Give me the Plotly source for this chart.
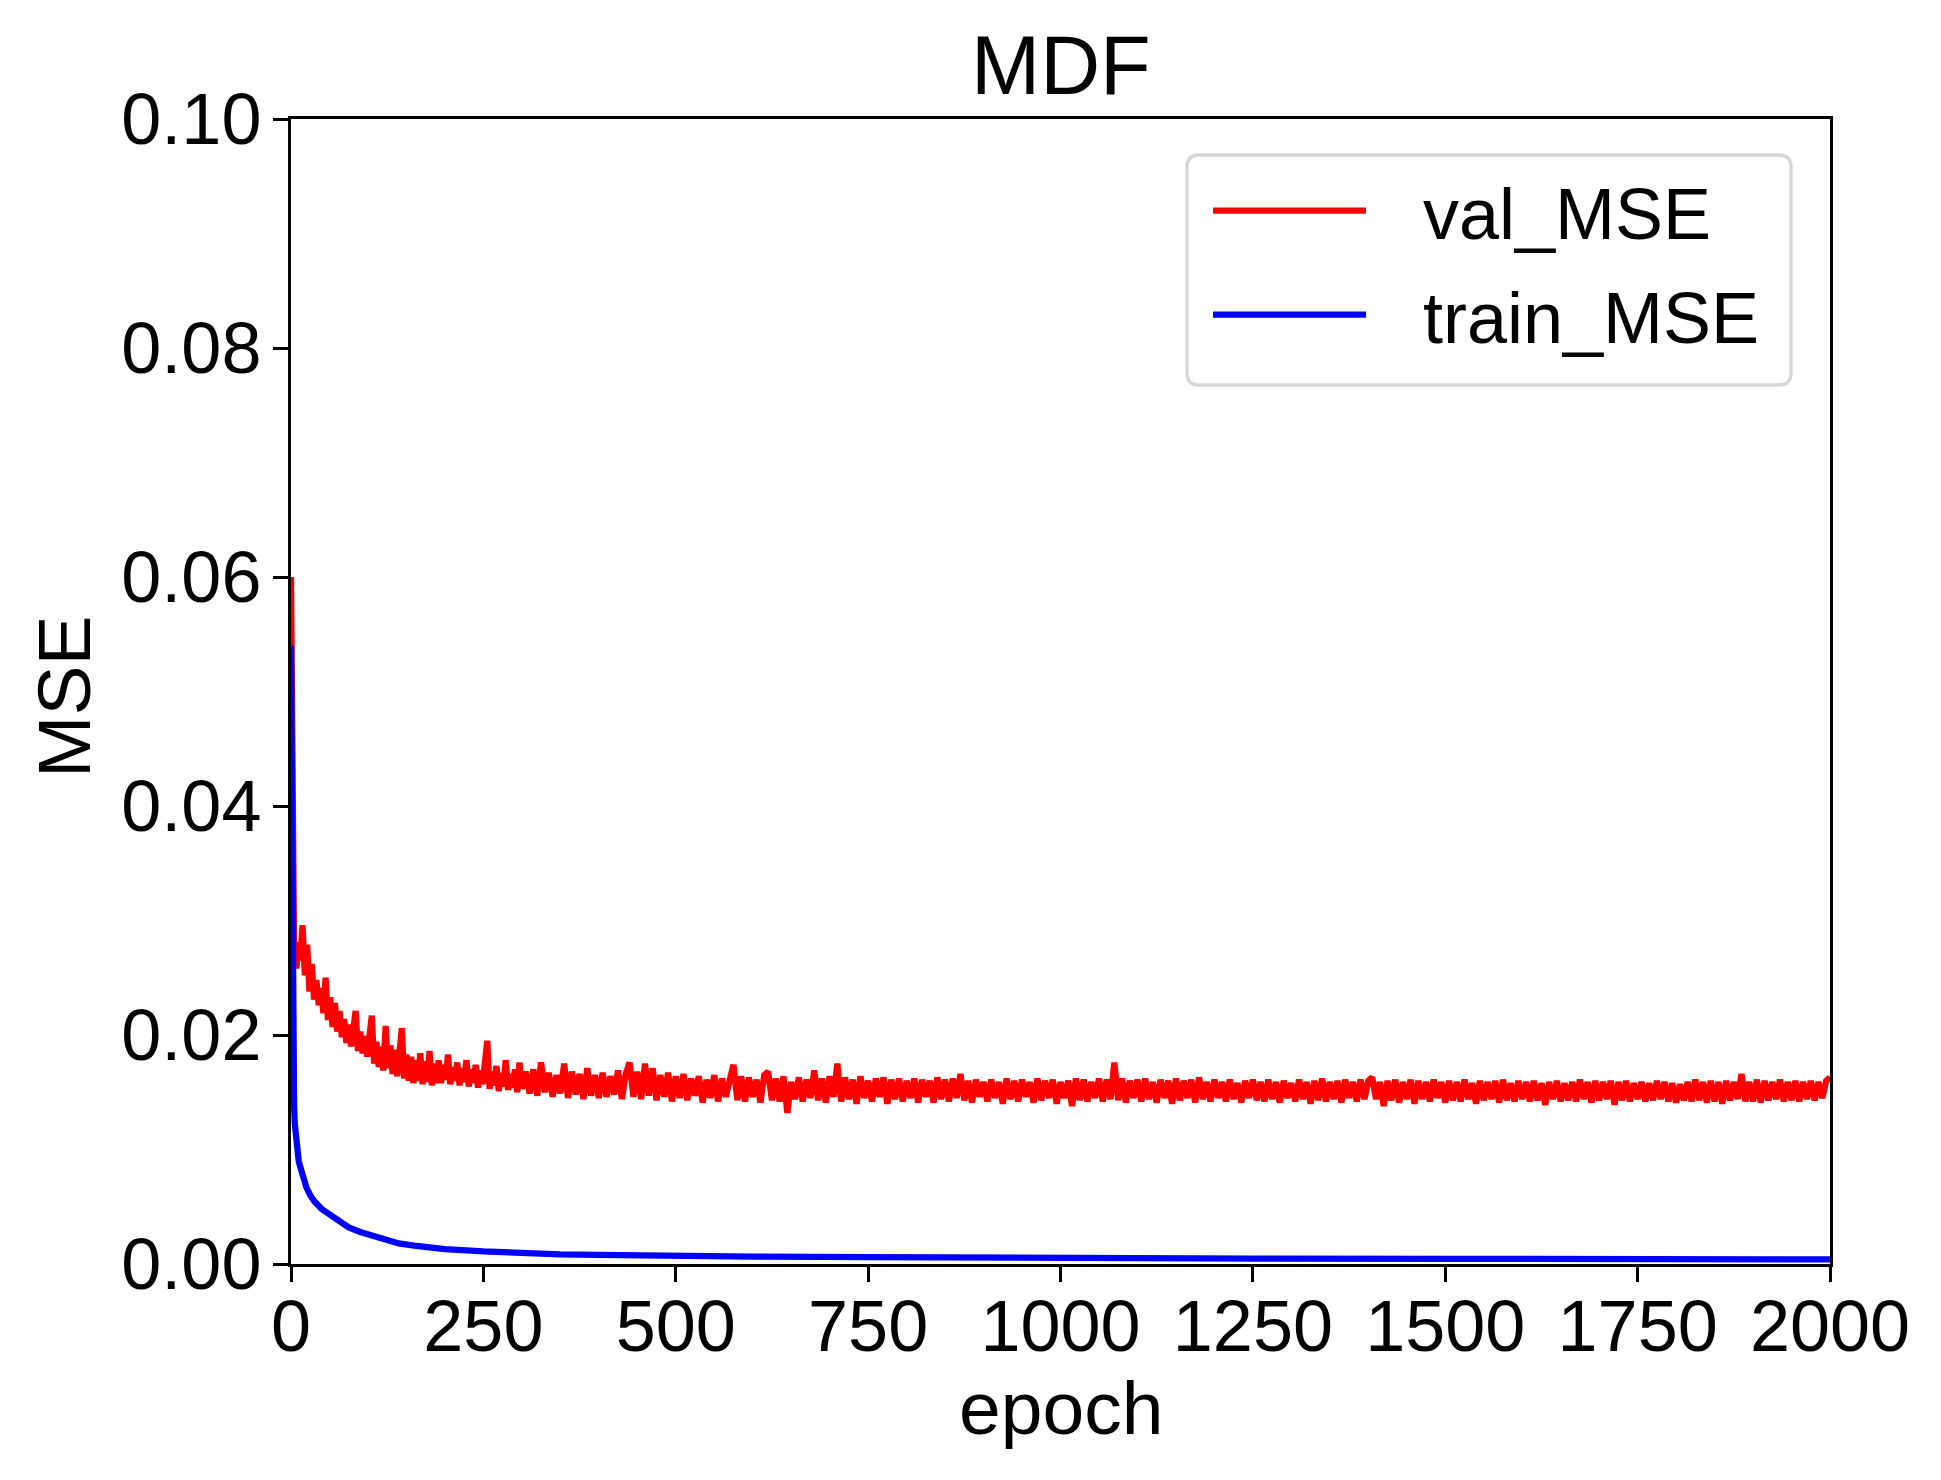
import plotly.graph_objects as go

# ---------------- data ----------------
title_text = "MDF"
x_label = "epoch"
y_label = "MSE"
series_names = ["val_MSE", "train_MSE"]
x_ticks = [0, 250, 500, 750, 1000, 1250, 1500, 1750, 2000]
y_ticks = [0.00, 0.02, 0.04, 0.06, 0.08, 0.10]

# val_MSE, stored in segments: (first epoch, epoch step, values)
val_seg_a = (0, 1, [0.060, 0.046, 0.036, 0.030, 0.0275, 0.0262, 0.0268, 0.0258, 0.0275, 0.0262, 0.0281])
val_seg_b = (12, 3, [
    0.0265, 0.0296, 0.0252, 0.0279, 0.0238, 0.0262, 0.0231, 0.0248, 0.0226, 0.0241,
    0.0219, 0.0250, 0.0213, 0.0233, 0.0207, 0.0228, 0.0203, 0.0221, 0.0198, 0.0214,
    0.0193, 0.0209, 0.0190, 0.0205, 0.0221, 0.0186, 0.0203, 0.0184, 0.0199, 0.0181,
    0.0196, 0.0217, 0.0175, 0.0194, 0.0172, 0.0190, 0.0169, 0.0208, 0.0171, 0.0191,
    0.0166, 0.0187, 0.0164, 0.0185, 0.0206, 0.0162, 0.0183, 0.0160, 0.0181, 0.0158,
    0.0178, 0.0160, 0.0184, 0.0157, 0.0177, 0.0159, 0.0186, 0.0156, 0.0175, 0.0158,
    0.0178, 0.0158, 0.0174, 0.0161, 0.0183, 0.0157, 0.0172, 0.0160, 0.0176, 0.0156,
    0.0171, 0.0159, 0.0178, 0.0155, 0.0170, 0.0158, 0.0174, 0.0154, 0.0169, 0.0157,
    0.0172, 0.0195, 0.0153, 0.0168, 0.0156, 0.0173, 0.0151, 0.0167, 0.0155, 0.0178,
    0.0152, 0.0166, 0.0154, 0.0170, 0.0150, 0.0176, 0.0153])
val_seg_d = (305, 5, [
    0.0168, 0.0149, 0.0170, 0.0147, 0.0176, 0.0150, 0.0167, 0.0146, 0.0165, 0.0149,
    0.0175, 0.0145, 0.0168, 0.0148, 0.0166, 0.0144, 0.0171, 0.0147, 0.0165, 0.0145,
    0.0167, 0.0146, 0.0164, 0.0148, 0.0169, 0.0144, 0.0166, 0.0176, 0.0146, 0.0168,
    0.0144, 0.0175, 0.0147, 0.0171, 0.0143, 0.0165, 0.0146, 0.0167, 0.0142, 0.0164,
    0.0145, 0.0166, 0.0143, 0.0162, 0.0147, 0.0164, 0.0141, 0.0161, 0.0145, 0.0165,
    0.0142, 0.0162, 0.0146, 0.0160, 0.0174, 0.0143, 0.0164, 0.0142, 0.0163, 0.0146,
    0.0161, 0.0141, 0.0165, 0.0168, 0.0143, 0.0162, 0.0142, 0.0164, 0.0132, 0.0159,
    0.0144, 0.0163, 0.0142, 0.0161, 0.0145, 0.0169, 0.0143, 0.0162, 0.0141, 0.0164,
    0.0146, 0.0175, 0.0142, 0.0163, 0.0144, 0.0161, 0.0140, 0.0164, 0.0145, 0.0160,
    0.0142, 0.0162, 0.0146, 0.0163, 0.0140, 0.0161, 0.0144, 0.0162, 0.0142, 0.0160,
    0.0145, 0.0162, 0.0141, 0.0161, 0.0146, 0.0160, 0.0141, 0.0163, 0.0144, 0.0161,
    0.0142, 0.0162, 0.0145, 0.0166, 0.0143, 0.0160, 0.0141, 0.0161, 0.0146, 0.0159,
    0.0142, 0.0161, 0.0145, 0.0159, 0.0140, 0.0162, 0.0144, 0.0160, 0.0142, 0.0161,
    0.0146, 0.0159, 0.0141, 0.0162, 0.0143, 0.0160, 0.0145, 0.0161, 0.0140, 0.0159,
    0.0145, 0.0160, 0.0138, 0.0162, 0.0143, 0.0161, 0.0142, 0.0159, 0.0145, 0.0162,
    0.0142, 0.0161, 0.0144, 0.0176, 0.0143, 0.0162, 0.0141, 0.0160, 0.0145, 0.0161,
    0.0142, 0.0162, 0.0144, 0.0159, 0.0141, 0.0161, 0.0145, 0.0160, 0.0140, 0.0162,
    0.0143, 0.0160, 0.0145, 0.0161, 0.0141, 0.0163, 0.0144, 0.0159, 0.0142, 0.0161,
    0.0145, 0.0159, 0.0142, 0.0161, 0.0144, 0.0158, 0.0141, 0.0160, 0.0145, 0.0161,
    0.0143, 0.0159, 0.0142, 0.0161, 0.0144, 0.0159, 0.0141, 0.0160, 0.0145, 0.0158,
    0.0142, 0.0161, 0.0144, 0.0159, 0.0140, 0.0160, 0.0143, 0.0162, 0.0142, 0.0159,
    0.0144, 0.0160, 0.0141, 0.0161, 0.0145, 0.0159, 0.0142, 0.0161, 0.0144, 0.0160,
    0.0163, 0.0144, 0.0159, 0.0138, 0.0160, 0.0143, 0.0161, 0.0141, 0.0159, 0.0144,
    0.0161, 0.0140, 0.0160, 0.0144, 0.0159, 0.0142, 0.0161, 0.0145, 0.0159, 0.0141,
    0.0160, 0.0143, 0.0159, 0.0142, 0.0161, 0.0144, 0.0158, 0.0140, 0.0160, 0.0143,
    0.0159, 0.0144, 0.0160, 0.0141, 0.0161, 0.0143, 0.0158, 0.0142, 0.0160, 0.0144,
    0.0159, 0.0142, 0.0160, 0.0143, 0.0158, 0.0139, 0.0159, 0.0144, 0.0160, 0.0142,
    0.0158, 0.0143, 0.0159, 0.0142, 0.0161, 0.0144, 0.0159, 0.0141, 0.0160, 0.0143,
    0.0159, 0.0144, 0.0160, 0.0139, 0.0159, 0.0143, 0.0160, 0.0142, 0.0158, 0.0144,
    0.0159, 0.0142, 0.0158, 0.0143, 0.0160, 0.0144, 0.0159, 0.0142, 0.0158, 0.0141,
    0.0157, 0.0143, 0.0159, 0.0142, 0.0161, 0.0143, 0.0159, 0.0141, 0.0160, 0.0142,
    0.0159, 0.0140, 0.0160, 0.0143, 0.0159, 0.0144, 0.0166, 0.0142, 0.0159, 0.0142,
    0.0161, 0.0141, 0.0160, 0.0143, 0.0159, 0.0144, 0.0161, 0.0142, 0.0159, 0.0143,
    0.0160, 0.0142, 0.0159, 0.0144, 0.0160, 0.0143, 0.0159, 0.0145, 0.0160, 0.0163])

train_epochs = [0, 1, 2, 3, 4, 5, 6, 8, 10, 12, 15, 20, 25, 30, 40, 50, 60, 75, 90, 100,
                120, 140, 160, 180, 200, 250, 300, 350, 400, 500, 600, 750, 1000, 1250,
                1500, 1750, 2000]
train_mse = [0.054, 0.036, 0.024, 0.017, 0.0138, 0.0122, 0.0112, 0.0098, 0.0090, 0.0085,
             0.0076, 0.0067, 0.0060, 0.0055, 0.0048, 0.0043, 0.0038, 0.0032, 0.0028, 0.0026,
             0.0021, 0.0018, 0.0016, 0.0014, 0.0013, 0.0011, 0.00095, 0.00085, 0.0008, 0.0007,
             0.00065, 0.0006, 0.0005, 0.00047, 0.00045, 0.00042, 0.0004]

val_epochs, val_mse = [], []
for start, step, vals in (val_seg_a, val_seg_b, val_seg_d):
    val_epochs += [start + i * step for i in range(len(vals))]
    val_mse += vals

# ---------------- layout geometry (page pixels) ----------------
PAGE_W, PAGE_H = 1941, 1480
OFF = 8  # default body margin of the html page
W, H = PAGE_W - 2 * OFF, PAGE_H - 2 * OFF
L, R, T, B = 291, 1830, 119, 1264
FONT = "Liberation Sans, Arial, Helvetica, sans-serif"


def px(X):
    return (X - L) / (R - L)


def py(Y):
    return (B - Y) / (B - T)


fig = go.Figure()
fig.add_trace(go.Scatter(x=val_epochs, y=val_mse, mode="lines", name=series_names[0],
                         line=dict(color="#ff0000", width=6.25), showlegend=False))
fig.add_trace(go.Scatter(x=train_epochs, y=train_mse, mode="lines", name=series_names[1],
                         line=dict(color="#0000ff", width=6.25), showlegend=False))

axis_common = dict(showgrid=False, zeroline=False, showline=True, linecolor="black",
                   linewidth=3.3, mirror=True, ticks="outside", ticklen=15, tickwidth=3.3,
                   tickcolor="black", tickfont=dict(family=FONT, size=72, color="black"))

fig.update_xaxes(range=[0, 2000], tickvals=x_ticks, ticktext=[str(v) for v in x_ticks],
                 ticklabelstandoff=-18, **axis_common)
fig.update_yaxes(range=[0, 0.1], tickvals=y_ticks, ticktext=[f"{v:.2f}" for v in y_ticks],
                 ticklabelstandoff=-3, **axis_common)

# legend drawn as a rounded box with line samples and text labels
x0, x1 = px(1187), px(1791)
y0, y1 = py(385), py(155)
rx, ry = 12 / (R - L), 12 / (B - T)
path = (f"M {x0+rx},{y0} L {x1-rx},{y0} Q {x1},{y0} {x1},{y0+ry} "
        f"L {x1},{y1-ry} Q {x1},{y1} {x1-rx},{y1} L {x0+rx},{y1} "
        f"Q {x0},{y1} {x0},{y1-ry} L {x0},{y0+ry} Q {x0},{y0} {x0+rx},{y0} Z")
shapes = [dict(type="path", xref="paper", yref="paper", path=path,
               line=dict(color="#d6d6d6", width=3.3), fillcolor="rgba(255,255,255,0.8)", layer="above")]
legend_rows = [(series_names[0], "#ff0000", 210.5), (series_names[1], "#0000ff", 314.5)]
annotations = []
for name, color, Y in legend_rows:
    shapes.append(dict(type="line", xref="paper", yref="paper", x0=px(1213), x1=px(1366),
                       y0=py(Y), y1=py(Y), line=dict(color=color, width=6.25), layer="above"))
    annotations.append(dict(text=name, xref="paper", yref="paper", x=px(1421), y=py(Y + 3),
                            xanchor="left", yanchor="middle", showarrow=False,
                            font=dict(family=FONT, size=72, color="black")))

annotations.append(dict(text=title_text, xref="paper", yref="paper", x=0.5, y=py(66),
                        xanchor="center", yanchor="middle", showarrow=False,
                        font=dict(family=FONT, size=83, color="black")))
annotations.append(dict(text=x_label, xref="paper", yref="paper", x=0.5, y=py(1408),
                        xanchor="center", yanchor="middle", showarrow=False,
                        font=dict(family=FONT, size=75, color="black")))
annotations.append(dict(text=y_label, xref="paper", yref="paper", x=px(64), y=py(697),
                        xanchor="center", yanchor="middle", showarrow=False, textangle=-90,
                        font=dict(family=FONT, size=75, color="black")))

fig.update_layout(width=W, height=H,
                  margin=dict(l=L - OFF, r=(PAGE_W - OFF) - R, t=T - OFF, b=(PAGE_H - OFF) - B),
                  paper_bgcolor="white", plot_bgcolor="white", showlegend=False,
                  shapes=shapes, annotations=annotations,
                  font=dict(family=FONT, color="black"))

fig.write_html("out.html")
